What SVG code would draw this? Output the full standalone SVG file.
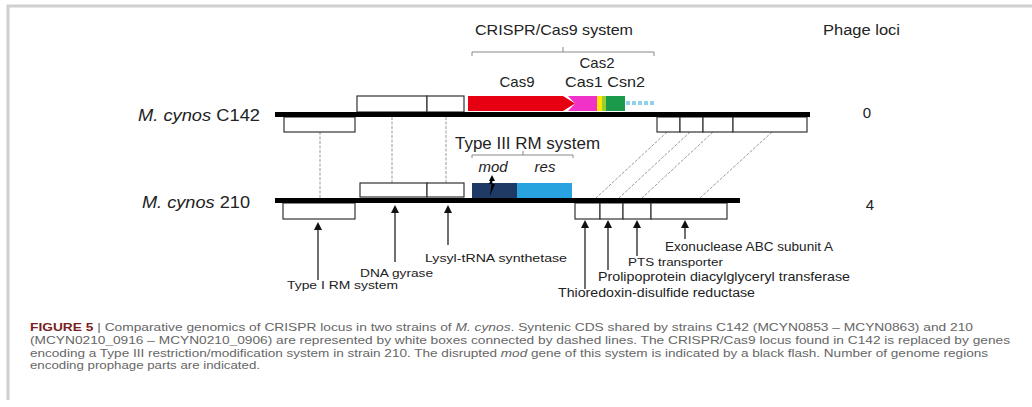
<svg xmlns="http://www.w3.org/2000/svg" width="1032" height="407" viewBox="0 0 1032 407">
<style>
text{font-family:"Liberation Sans",Arial,sans-serif;fill:#222}
.lab{font-size:15px}
.sm{font-size:11.5px}
.cap{font-size:10.5px;fill:#666}
.box{fill:#fff;stroke:#333;stroke-width:1.2}
.chrom{stroke:#000;stroke-width:5}
.syn{stroke:#999;stroke-width:1;fill:none;stroke-dasharray:3 1.5}
.brk{stroke:#888;stroke-width:1;fill:none}
.arr{stroke:#222;stroke-width:1.3;fill:none}
.it{font-style:italic}
</style>
<defs>
<marker id="ah" markerWidth="8" markerHeight="8" refX="6" refY="4" orient="auto" markerUnits="userSpaceOnUse" viewBox="0 0 8 8">
<path d="M0,0 L8,4 L0,8 Z" fill="#111"/>
</marker>
</defs>
<!-- frame -->
<path d="M8,400 L8,6 L1032,6" fill="none" stroke="#d0d0d0" stroke-width="3"/>

<g id="connectors">
<line class="syn" x1="320" y1="132" x2="320" y2="203"/>
<line class="syn" x1="392" y1="117" x2="392" y2="183"/>
<line class="syn" x1="446" y1="117" x2="446" y2="183"/>
<line class="syn" x1="667" y1="132" x2="596" y2="198"/>
<line class="syn" x1="690" y1="132" x2="619" y2="198"/>
<line class="syn" x1="713" y1="132" x2="642" y2="198"/>
<line class="syn" x1="772" y1="132" x2="700" y2="198"/>
<!-- feature arrows -->
<line class="arr" x1="318" y1="280" x2="318" y2="224" marker-end="url(#ah)"/>
<line class="arr" x1="395" y1="262" x2="395" y2="207" marker-end="url(#ah)"/>
<line class="arr" x1="448" y1="245" x2="448" y2="207" marker-end="url(#ah)"/>
<line class="arr" x1="585" y1="289" x2="585" y2="222" marker-end="url(#ah)"/>
<line class="arr" x1="608" y1="270" x2="608" y2="222" marker-end="url(#ah)"/>
<line class="arr" x1="637" y1="256" x2="637" y2="222" marker-end="url(#ah)"/>
<line class="arr" x1="685" y1="239" x2="685" y2="222" marker-end="url(#ah)"/>
</g>

<g id="strain-C142">
<text class="lab" x="138" y="121" textLength="122" lengthAdjust="spacingAndGlyphs" style="font-size:17px"><tspan class="it">M. cynos</tspan> C142</text>
<rect class="box" x="357" y="96" width="70" height="16"/>
<rect class="box" x="427" y="96" width="37" height="16"/>
<rect class="box" x="284" y="117" width="71" height="15"/>
<rect class="box" x="657" y="117" width="23" height="15"/>
<rect class="box" x="680" y="117" width="23" height="15"/>
<rect class="box" x="703" y="117" width="30" height="15"/>
<rect class="box" x="733" y="117" width="74" height="15"/>
<line class="chrom" x1="275" y1="114.5" x2="810" y2="114.5"/>
</g>

<g id="crispr-cas9">
<path d="M468,96 L563,96 L575,103.5 L563,111 L468,111 Z" fill="#e60012"/>
<path d="M568,96 L597,96 L597,111 L568,111 L575,103.5 Z" fill="#f032c8"/>
<rect x="597" y="96" width="5" height="15" fill="#ffe600"/>
<rect x="602" y="96" width="4" height="15" fill="#9acd32"/>
<rect x="606" y="96" width="19" height="15" fill="#1a9a4a"/>
<g fill="#8fd3e8">
<rect x="626" y="101" width="4" height="4"/><rect x="632" y="101" width="4" height="4"/><rect x="638" y="101" width="4" height="4"/><rect x="644" y="101" width="4" height="4"/><rect x="650" y="101" width="4" height="4"/>
</g>
<text class="lab" x="517" y="87" text-anchor="middle">Cas9</text>
<text class="lab" x="597" y="68" text-anchor="middle">Cas2</text>
<text class="lab" x="565" y="87" textLength="80" lengthAdjust="spacingAndGlyphs">Cas1 Csn2</text>
<path class="brk" d="M472,56 L472,52 L654,52 L654,56 M563,52 L563,47"/>
<text class="lab" x="475" y="35" textLength="158" lengthAdjust="spacingAndGlyphs">CRISPR/Cas9 system</text>
</g>

<g id="strain-210">
<text class="lab" x="142" y="208" textLength="108" lengthAdjust="spacingAndGlyphs" style="font-size:17px"><tspan class="it">M. cynos</tspan> 210</text>
<rect class="box" x="360" y="183" width="67" height="14"/>
<rect class="box" x="427" y="183" width="37" height="14"/>
<rect class="box" x="283" y="203" width="72" height="16"/>
<rect class="box" x="575" y="203" width="25" height="16"/>
<rect class="box" x="600" y="203" width="23" height="16"/>
<rect class="box" x="623" y="203" width="28" height="16"/>
<rect class="box" x="651" y="203" width="76" height="16"/>
<line class="chrom" x1="275" y1="200.5" x2="740" y2="200.5"/>
</g>

<g id="type3-rm">
<rect x="472" y="183" width="45" height="15" fill="#1f3a64"/>
<rect x="517" y="183" width="55" height="15" fill="#29a3e0"/>
<path d="M492,177 L489,184 L491.5,184 L490,196 L495,184 L492.5,184 Z" fill="#000"/>
<path d="M489,181 L492,175 L495,181 Z" fill="#000"/>
<path class="brk" d="M472,158 L472,155 L573,155 L573,158 M523,155 L523,151"/>
<text class="lab" x="455" y="149" textLength="145" lengthAdjust="spacingAndGlyphs" style="font-size:16px">Type III RM system</text>
<text class="lab it" x="493" y="172" text-anchor="middle">mod</text>
<text class="lab it" x="545" y="172" text-anchor="middle">res</text>
</g>

<g id="phage-loci">
<text class="lab" x="823" y="35" textLength="77" lengthAdjust="spacingAndGlyphs" style="font-size:14px">Phage loci</text>
<text class="lab" x="867" y="118" text-anchor="middle">0</text>
<text class="lab" x="870" y="210" text-anchor="middle">4</text>
</g>

<g id="feature-labels">
<text class="sm" x="287" y="289" textLength="111" lengthAdjust="spacingAndGlyphs" style="font-size:10.5px">Type I RM system</text>
<text class="sm" x="360" y="277" textLength="73" lengthAdjust="spacingAndGlyphs">DNA gyrase</text>
<text class="sm" x="425" y="262" textLength="142" lengthAdjust="spacingAndGlyphs">Lysyl-tRNA synthetase</text>
<text class="sm" x="558" y="297" textLength="197" lengthAdjust="spacingAndGlyphs" style="font-size:12.5px">Thioredoxin-disulfide reductase</text>
<text class="sm" x="598" y="281" textLength="252" lengthAdjust="spacingAndGlyphs" style="font-size:13px">Prolipoprotein diacylglyceryl transferase</text>
<text class="sm" x="628" y="266" textLength="95" lengthAdjust="spacingAndGlyphs">PTS transporter</text>
<text class="sm" x="665" y="251" textLength="168" lengthAdjust="spacingAndGlyphs" style="font-size:12.5px">Exonuclease ABC subunit A</text>
</g>

<g id="caption">
<text class="cap" x="30" y="331" textLength="943" lengthAdjust="spacingAndGlyphs"><tspan font-weight="bold" fill="#7a1f1f">FIGURE 5</tspan> | Comparative genomics of CRISPR locus in two strains of <tspan class="it">M. cynos</tspan>. Syntenic CDS shared by strains C142 (MCYN0853 – MCYN0863) and 210</text>
<text class="cap" x="30" y="344" textLength="980" lengthAdjust="spacingAndGlyphs">(MCYN0210_0916 – MCYN0210_0906) are represented by white boxes connected by dashed lines. The CRISPR/Cas9 locus found in C142 is replaced by genes</text>
<text class="cap" x="30" y="357" textLength="958" lengthAdjust="spacingAndGlyphs">encoding a Type III restriction/modification system in strain 210. The disrupted <tspan class="it">mod</tspan> gene of this system is indicated by a black flash. Number of genome regions</text>
<text class="cap" x="30" y="369" textLength="230" lengthAdjust="spacingAndGlyphs">encoding prophage parts are indicated.</text>
</g>
</svg>
